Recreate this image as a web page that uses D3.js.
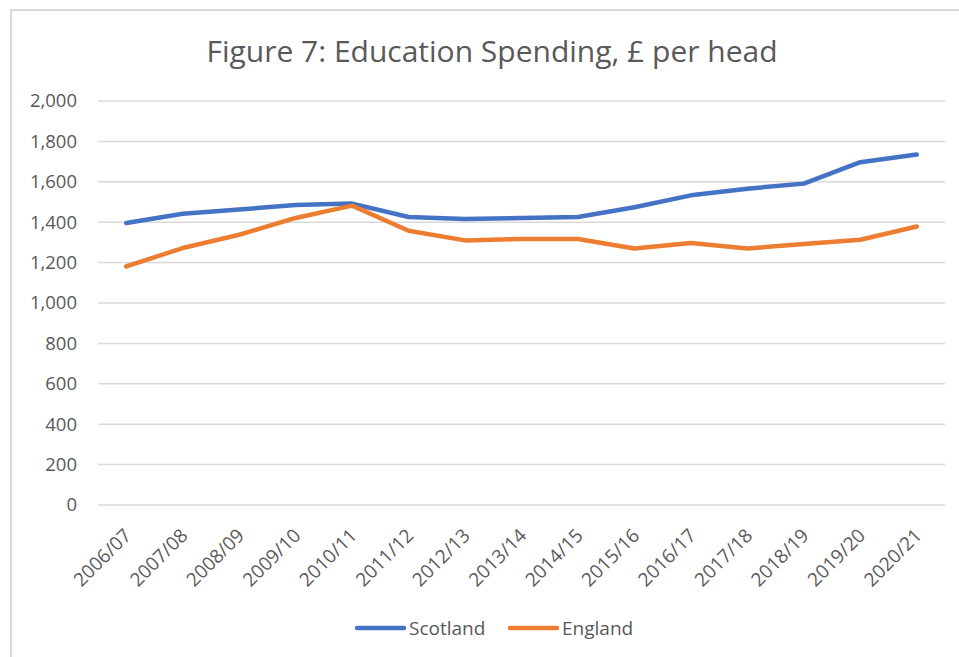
<!DOCTYPE html>
<html>
<head>
<meta charset="utf-8">
<script src="https://cdn.jsdelivr.net/npm/d3@7"></script>
<style>
  html, body { margin: 0; padding: 0; background: #fff; }
  svg { display: block; }
  text { font-family: "Open Sans", "Noto Sans", sans-serif; fill: #595959; }
</style>
</head>
<body>
<svg id="chart" width="959" height="657"></svg>
<script>
// Education spending, £ per head
const years = ["2006/07","2007/08","2008/09","2009/10","2010/11","2011/12","2012/13","2013/14",
               "2014/15","2015/16","2016/17","2017/18","2018/19","2019/20","2020/21"];
const scotland = [1396, 1442, 1463, 1485, 1492, 1426, 1416, 1421, 1426, 1474, 1533, 1566, 1591, 1697, 1735];
const england  = [1181, 1272, 1338, 1421, 1482, 1358, 1310, 1317, 1317, 1270, 1297, 1270, 1292, 1313, 1379];
const yTicks = [0, 200, 400, 600, 800, 1000, 1200, 1400, 1600, 1800, 2000];
const seriesNames = ["Scotland", "England"];
const seriesColors = ["#4472c4", "#ed7d31"];

const svg = d3.select("#chart");

// chart frame
svg.append("path")
  .attr("d", "M11,660 L11,10 L962,10")
  .attr("fill", "none")
  .attr("stroke", "#d9d9d9")
  .attr("stroke-width", 2);

const plotLeft = 98, plotRight = 945, plotTop = 101, plotBottom = 505;

const x = d3.scalePoint().domain(years).range([plotLeft, plotRight]).padding(0.5);
const y = d3.scaleLinear().domain([0, 2000]).range([plotBottom, plotTop]);

// title
svg.append("text")
  .attr("x", 492).attr("y", 62)
  .attr("text-anchor", "middle")
  .style("font-size", "30px")
  .text("Figure 7: Education Spending, £ per head");

// gridlines
svg.append("g")
  .selectAll("line")
  .data(yTicks)
  .join("line")
  .attr("x1", plotLeft).attr("x2", plotRight)
  .attr("y1", d => y(d)).attr("y2", d => y(d))
  .attr("stroke", "#d9d9d9")
  .attr("stroke-width", 1.5);

// y axis labels
const yAxis = d3.axisLeft(y).tickValues(yTicks).tickFormat(d3.format(",")).tickSize(0).tickPadding(0);
const gy = svg.append("g").attr("transform", `translate(77,0)`).call(yAxis);
gy.select(".domain").remove();
gy.selectAll("text").style("font-size", "18.5px").style("font-family", "'Open Sans', sans-serif").attr("fill", "#595959");

// x axis labels, rotated
const xAxis = d3.axisBottom(x).tickSize(0).tickPadding(0);
const gx = svg.append("g").attr("transform", `translate(0,${plotBottom})`).call(xAxis);
gx.select(".domain").remove();
gx.selectAll("text")
  .style("font-size", "19px")
  .style("font-family", "'Open Sans', sans-serif")
  .attr("fill", "#595959")
  .attr("text-anchor", "end")
  .attr("y", 0)
  .attr("dy", "0.35em")
  .attr("transform", "translate(1,27) rotate(-45)");

// lines
const line = d3.line().x((d, i) => x(years[i])).y(d => y(d));
[scotland, england].forEach((vals, k) => {
  svg.append("path")
    .datum(vals)
    .attr("d", line)
    .attr("fill", "none")
    .attr("stroke", seriesColors[k])
    .attr("stroke-width", 4.5)
    .attr("stroke-linejoin", "round")
    .attr("stroke-linecap", "round");
});

// legend
const legendX = [357, 510];
seriesNames.forEach((name, k) => {
  const g = svg.append("g").attr("transform", `translate(${legendX[k]},628)`);
  g.append("line")
    .attr("x1", 0).attr("x2", 47).attr("y1", 0).attr("y2", 0)
    .attr("stroke", seriesColors[k]).attr("stroke-width", 4.5).attr("stroke-linecap", "round");
  g.append("text")
    .attr("x", 52).attr("y", 0).attr("dy", "0.35em")
    .style("font-size", "19px")
    .text(name);
});
</script>
</body>
</html>
